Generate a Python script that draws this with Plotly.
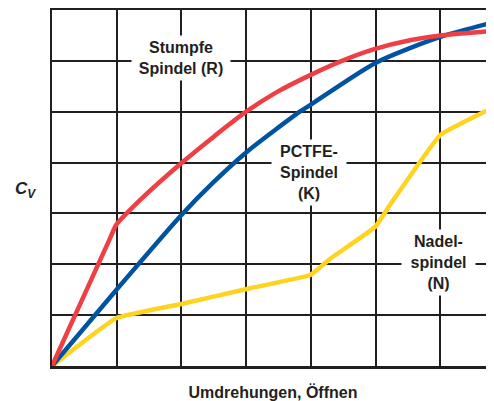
import plotly.graph_objects as go

# Data in grid units (x: turns, y: Cv)
red_x = [0, 0.9, 0.99, 1.36, 2.0, 2.49, 3.0, 3.48, 3.99, 4.48, 4.98, 5.55, 6.0, 6.83]
red_y = [0, 2.52, 2.77, 3.26, 3.99, 4.5, 5.0, 5.39, 5.72, 6.0, 6.23, 6.41, 6.5, 6.59]

blue_x = [0, 0.99, 2.0, 2.5, 3.0, 3.83, 4.0, 5.0, 6.0, 6.83]
blue_y = [0, 1.49, 2.97, 3.62, 4.2, 5.0, 5.14, 5.96, 6.47, 6.76]

yel_x = [0, 0.99, 2.0, 3.06, 3.99, 4.31, 4.99, 5.24, 6.0, 6.83]
yel_y = [0, 0.94, 1.22, 1.53, 1.79, 2.12, 2.73, 3.2, 4.54, 5.09]

labels = [
    dict(text="Stumpfe<br>Spindel (R)", x=2.0, y=6.06, width=92),
    dict(text="PCTFE-<br>Spindel<br>(K)", x=3.97, y=3.81, width=68),
    dict(text="Nadel-<br>spindel<br>(N)", x=5.98, y=2.04, width=67),
]

GRID = "#231F20"
FONT = "Liberation Sans, Arial, Helvetica, sans-serif"

fig = go.Figure()
fig.add_trace(go.Scatter(x=yel_x, y=yel_y, mode="lines",
                         line=dict(color="#FFD320", width=4.5, shape="spline", smoothing=0.3)))
fig.add_trace(go.Scatter(x=blue_x, y=blue_y, mode="lines",
                         line=dict(color="#0053A0", width=4.5, shape="spline", smoothing=0.7)))
fig.add_trace(go.Scatter(x=red_x, y=red_y, mode="lines",
                         line=dict(color="#EE3F45", width=4.5, shape="spline", smoothing=0.5)))

for lb in labels:
    fig.add_annotation(x=lb["x"], y=lb["y"], text=lb["text"], showarrow=False,
                       xref="x", yref="y", bgcolor="white", borderpad=3, width=lb["width"],
                       font=dict(family=FONT, size=16, color=GRID, weight="bold"))

fig.add_annotation(xref="paper", yref="paper", x=-0.089, y=0.494, showarrow=False,
                   text="<b><i>C<sub>V</sub></i></b>",
                   font=dict(family=FONT, size=17, color=GRID))

# page body has an 8px margin, so the figure is shrunk and shifted to compensate
fig.update_layout(
    width=486, height=393,
    margin=dict(l=44, r=0, t=2, b=35),
    paper_bgcolor="white", plot_bgcolor="white",
    showlegend=False,
    xaxis=dict(range=[0, 6.83], dtick=1, tick0=0, showgrid=True, gridcolor=GRID, gridwidth=2,
               showticklabels=False, ticks="", zeroline=False, showline=True, mirror=True,
               linecolor=GRID, linewidth=2.5, automargin=False,
               title=dict(text="<b>Umdrehungen, Öffnen</b>", standoff=22,
                          font=dict(family=FONT, size=16, color=GRID))),
    yaxis=dict(range=[0, 7], dtick=1, tick0=0, showgrid=True, gridcolor=GRID, gridwidth=2,
               showticklabels=False, ticks="", zeroline=False, showline=True, linecolor=GRID,
               linewidth=2, automargin=False),
)

fig.write_html("out.html")
